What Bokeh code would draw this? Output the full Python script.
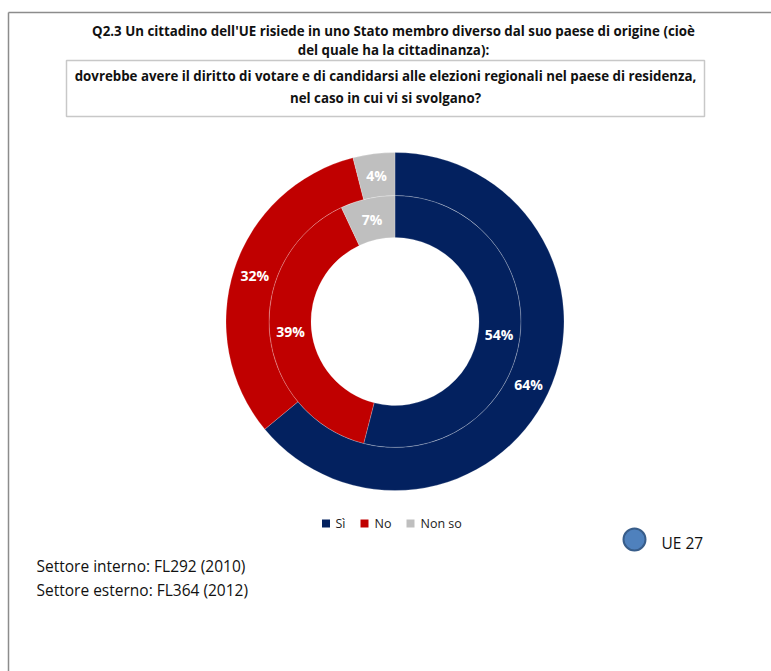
import numpy as np
from bokeh.plotting import figure
from bokeh.models import Range1d
from bokeh.core.properties import value
from bokeh.embed import file_html
from bokeh.resources import INLINE

W, H = 771, 671

categories = ["Sì", "No", "Non so"]
inner_values = [54, 39, 7]    # Settore interno: FL292 (2010)
outer_values = [64, 32, 4]    # Settore esterno: FL364 (2012)
colors = ["#03215F", "#C00000", "#BFBFBF"]

title_lines = [
    "Q2.3 Un cittadino dell'UE risiede in uno Stato membro diverso dal suo paese di origine (cioè",
    "del quale ha la cittadinanza):",
]
box_lines = [
    "dovrebbe avere il diritto di votare e di candidarsi alle elezioni regionali nel paese di residenza,",
    "nel caso in cui vi si svolgano?",
]
notes = ["Settore interno:  FL292 (2010)", "Settore esterno: FL364 (2012)"]
series_label = "UE 27"

FONT = "Open Sans"


def Y(y):
    return H - y


p = figure(width=W, height=H, x_range=Range1d(0, W), y_range=Range1d(0, H),
           output_backend="svg", toolbar_location=None, min_border=0)
p.axis.visible = False
p.grid.visible = False
p.outline_line_color = None
p.background_fill_color = "white"
p.border_fill_color = "white"

# outer frame (top and left edges)
p.segment(x0=[8, 8], y0=[Y(12), Y(12)], x1=[W, 8], y1=[Y(12), 0],
          line_color="#8C8C8C", line_width=1.5)

# title
for i, t in enumerate(title_lines):
    p.text(x=[393], y=[Y(30 + i * 19)], text=[t], text_font=value(FONT),
           text_font_style="bold", text_font_size="13.3px", text_color="#111111",
           text_align="center", text_baseline="middle")

# question box
p.quad(left=[66], right=[704], top=[Y(60)], bottom=[Y(116)],
       fill_color="white", line_color="#C8C8C8", line_width=1.5)
for i, t in enumerate(box_lines):
    p.text(x=[385], y=[Y(75 + i * 22)], text=[t], text_font=value(FONT),
           text_font_style="bold", text_font_size="13.3px", text_color="#111111",
           text_align="center", text_baseline="middle")

# donut rings
cx, cy = 394.5, 321
rings = [(inner_values, 84, 126), (outer_values, 126, 169)]
for vals, r0, r1 in rings:
    v = np.array(vals, dtype=float)
    frac = v / v.sum()
    cum = np.concatenate([[0], np.cumsum(frac)])
    start = np.pi / 2 - 2 * np.pi * cum[:-1]
    end = np.pi / 2 - 2 * np.pi * cum[1:]
    p.annular_wedge(x=[cx] * len(v), y=[Y(cy)] * len(v), inner_radius=r0, outer_radius=r1,
                    start_angle=list(start), end_angle=list(end), direction="clock",
                    fill_color=colors, line_color="white", line_width=0.5, line_alpha=0.4)
    mid = (start + end) / 2
    rm = (r0 + r1) / 2
    p.text(x=list(cx + rm * np.cos(mid)), y=list(Y(cy) + rm * np.sin(mid)),
           text=[f"{int(x)}%" for x in vals], text_font=value(FONT),
           text_font_style="bold", text_font_size="14px", text_color="white",
           text_align="center", text_baseline="middle")

# legend
leg_sq_x = [325.5, 364, 410]
leg_tx_x = [335, 374, 420]
p.rect(x=leg_sq_x, y=[Y(523)] * 3, width=8, height=8, fill_color=colors, line_color=None)
p.text(x=leg_tx_x, y=[Y(523)] * 3, text=categories, text_font=value(FONT),
       text_font_size="12.5px", text_color="#222222", text_baseline="middle")

# series marker
p.scatter(x=[634], y=[Y(539)], size=22, marker="circle", fill_color="#4F81BD",
          line_color="#385D8A", line_width=2)
p.text(x=[661], y=[Y(542)], text=[series_label], text_font=value(FONT),
       text_font_size="15.5px", text_color="#111111", text_baseline="middle")

# notes
for i, t in enumerate(notes):
    p.text(x=[36], y=[Y(565 + i * 24)], text=[t], text_font=value(FONT),
           text_font_size="15.5px", text_color="#111111", text_baseline="middle")

open("out.html", "w").write(file_html(p, INLINE))
